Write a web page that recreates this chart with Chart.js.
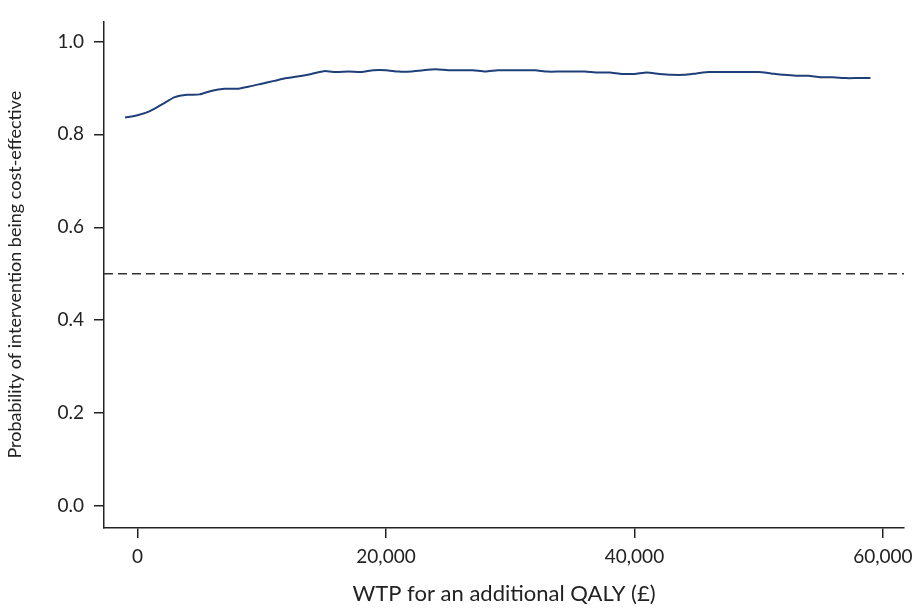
<!DOCTYPE html>
<html>
<head>
<meta charset="utf-8">
<script src="https://cdn.jsdelivr.net/npm/chart.js@4.4.1/dist/chart.umd.min.js"></script>
<style>
  html, body { margin: 0; padding: 0; background: #fff; }
  #wrap { width: 920px; height: 611px; }
</style>
</head>
<body>
<div id="wrap"><canvas id="ceac"></canvas></div>
<script>
// WTP thresholds (£) every 1000 from -1000 to 59000
const wtp = [];
for (let w = -1000; w <= 59000; w += 1000) wtp.push(w);

const probCE = [
  0.836, 0.841, 0.850, 0.865, 0.880, 0.885, 0.886, 0.894, 0.898, 0.898,
  0.903, 0.909, 0.915, 0.921, 0.925, 0.930, 0.936, 0.934, 0.935, 0.934,
  0.938, 0.938, 0.935, 0.935, 0.938, 0.940, 0.938, 0.938, 0.938, 0.935,
  0.938, 0.938, 0.938, 0.938, 0.935, 0.935, 0.935, 0.935, 0.933, 0.933,
  0.930, 0.930, 0.933, 0.930, 0.928, 0.928, 0.931, 0.934, 0.934, 0.934,
  0.934, 0.934, 0.931, 0.928, 0.926, 0.926, 0.923, 0.923, 0.921, 0.921,
  0.921
];

const xTicks = [0, 20000, 40000, 60000];
const yTicks = [0, 0.2, 0.4, 0.6, 0.8, 1.0];
const threshold = 0.5;
const xMin = -2700, xMax = 61700;
const yMin = -0.047, yMax = 1.043;

const ink = '#222';

new Chart(document.getElementById('ceac'), {
  type: 'line',
  data: {
    datasets: [{
      data: wtp.map((w, i) => ({ x: w, y: probCE[i] })),
      borderColor: '#1f3f78',
      borderWidth: 2,
      pointRadius: 0,
      tension: 0.2,
      fill: false
    }, {
      data: [{ x: xMin, y: threshold }, { x: xMax, y: threshold }],
      borderColor: '#333',
      borderWidth: 1.5,
      borderDash: [9, 5],
      pointRadius: 0,
      fill: false
    }]
  },
  options: {
    responsive: true,
    maintainAspectRatio: false,
    animation: false,
    layout: { padding: { left: 0, top: 14, right: 15, bottom: 0 } },
    plugins: { legend: { display: false }, tooltip: { enabled: false } },
    scales: {
      x: {
        type: 'linear',
        min: xMin,
        max: xMax,
        afterBuildTicks: s => { s.ticks = xTicks.map(v => ({ value: v })); },
        afterFit: s => { s.height = 83; },
        grid: { drawOnChartArea: false, drawTicks: true, tickLength: 10, color: ink, lineWidth: 1.5 },
        border: { display: true, color: ink, width: 1.5 },
        ticks: {
          color: ink,
          padding: 7,
          maxRotation: 0,
          font: { family: 'Lato', size: 19 },
          callback: v => v.toLocaleString('en-GB')
        },
        title: {
          display: true,
          text: 'WTP for an additional QALY (£)',
          color: ink,
          font: { family: 'Lato', size: 22 },
          padding: { top: 5 }
        }
      },
      y: {
        type: 'linear',
        min: yMin,
        max: yMax,
        afterBuildTicks: s => { s.ticks = yTicks.map(v => ({ value: v })); },
        afterFit: s => { s.width = 104; },
        grid: { drawOnChartArea: false, drawTicks: true, tickLength: 10, color: ink, lineWidth: 1.5 },
        border: { display: true, color: ink, width: 1.5 },
        ticks: {
          color: ink,
          padding: 10,
          font: { family: 'Lato', size: 19 },
          callback: v => v.toFixed(1)
        },
        title: {
          display: true,
          text: 'Probability of intervention being cost-effective',
          color: ink,
          font: { family: 'Lato', size: 18 },
          padding: { bottom: 7 }
        }
      }
    }
  }
});
</script>
</body>
</html>
